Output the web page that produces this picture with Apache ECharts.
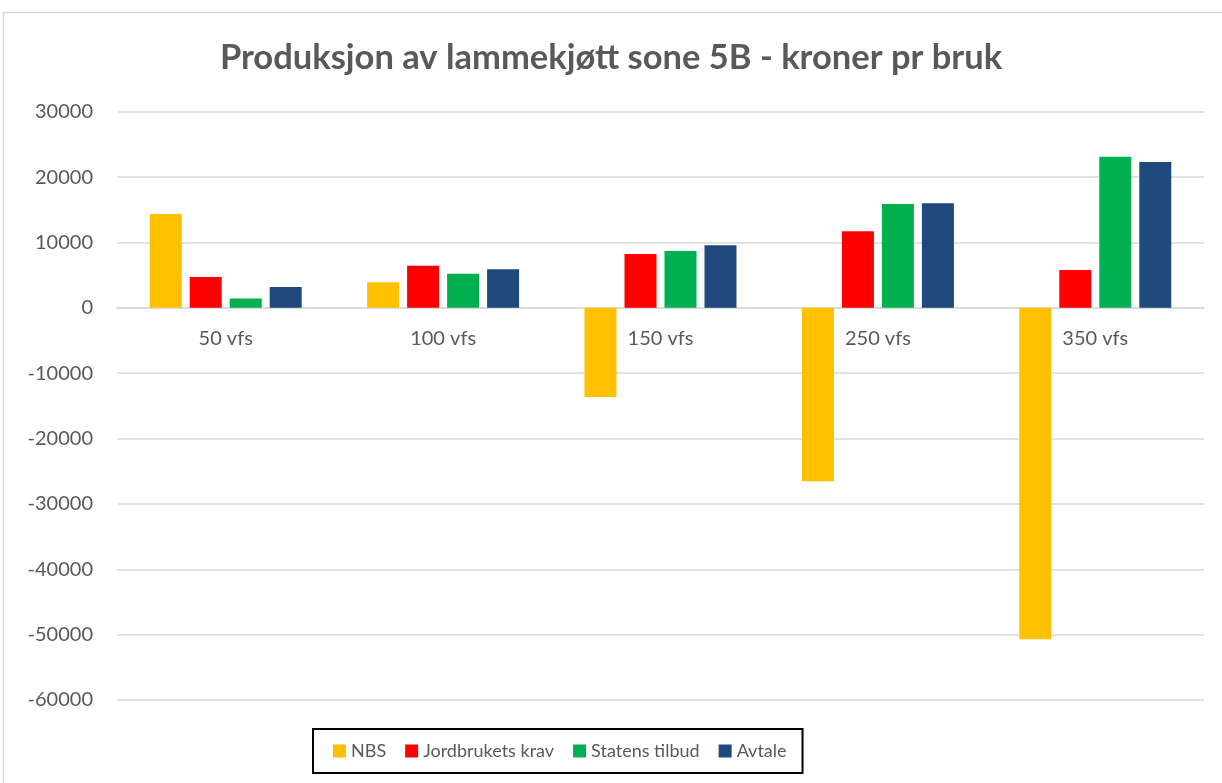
<!DOCTYPE html>
<html>
<head>
<meta charset="utf-8">
<script src="https://cdn.jsdelivr.net/npm/echarts@6/dist/echarts.min.js"></script>
<style>
  html, body { margin: 0; padding: 0; background: #fff; }
  #chart { width: 1222px; height: 783px; }
</style>
</head>
<body>
<div id="chart"></div>
<script>
  const categories = ['50 vfs', '100 vfs', '150 vfs', '250 vfs', '350 vfs'];
  const nbs = [14350, 3890, -13630, -26540, -50700];
  const jordbruketsKrav = [4700, 6430, 8220, 11700, 5770];
  const statensTilbud = [1440, 5210, 8680, 15880, 23120];
  const avtale = [3170, 5880, 9550, 15990, 22310];

  const chart = echarts.init(document.getElementById('chart'));
  const font = 'Lato, "Open Sans", sans-serif';

  function bar(name, data, color) {
    return {
      name: name,
      type: 'bar',
      data: data,
      barWidth: 32,
      barGap: '25%',
      itemStyle: { color: color },
      emphasis: { disabled: true }
    };
  }

  // grid bottom sits at -60000, zero line is 3/9 of the height down from the top
  const gridTop = 111.7, gridBottom = 83;
  const plotH = 783 - gridTop - gridBottom;
  const zeroOffset = -plotH * 6 / 9;

  chart.setOption({
    backgroundColor: '#fff',
    textStyle: { fontFamily: font },
    animation: false,
    graphic: [{
      type: 'rect',
      shape: { x: 3.5, y: 12.5, width: 1230, height: 800 },
      style: { fill: 'none', stroke: '#d9d9d9', lineWidth: 1.5 },
      silent: true
    }],
    title: {
      text: 'Produksjon av lammekjøtt sone 5B - kroner pr bruk',
      left: 'center',
      top: 35,
      textStyle: { fontFamily: font, fontSize: 34.5, fontWeight: 'bold', color: '#595959' }
    },
    legend: {
      left: 313,
      top: 729,
      itemWidth: 13,
      itemHeight: 13,
      itemGap: 19,
      padding: [13, 16, 13, 20],
      borderColor: '#000',
      borderWidth: 2,
      icon: 'rect',
      textStyle: { fontFamily: font, fontSize: 18, color: '#595959' },
      data: ['NBS', 'Jordbrukets krav', 'Statens tilbud', 'Avtale']
    },
    grid: { left: 117, right: 18, top: gridTop, bottom: gridBottom },
    xAxis: {
      type: 'category',
      data: categories,
      offset: zeroOffset,
      axisLine: { onZero: false, lineStyle: { color: '#d9d9d9', width: 1.5 } },
      axisTick: { show: false },
      axisLabel: { color: '#595959', fontSize: 20, margin: 21, fontFamily: font }
    },
    yAxis: {
      type: 'value',
      min: -60000,
      max: 30000,
      interval: 10000,
      axisLine: { show: false },
      axisTick: { show: false },
      axisLabel: {
        color: '#595959', fontSize: 20, margin: 24, fontFamily: font,
        formatter: function (v) { return String(v); }
      },
      splitLine: { lineStyle: { color: '#d9d9d9', width: 1.5 } }
    },
    series: [
      bar('NBS', nbs, '#ffc000'),
      bar('Jordbrukets krav', jordbruketsKrav, '#ff0000'),
      bar('Statens tilbud', statensTilbud, '#00b050'),
      bar('Avtale', avtale, '#1f497d')
    ]
  });
</script>
</body>
</html>
